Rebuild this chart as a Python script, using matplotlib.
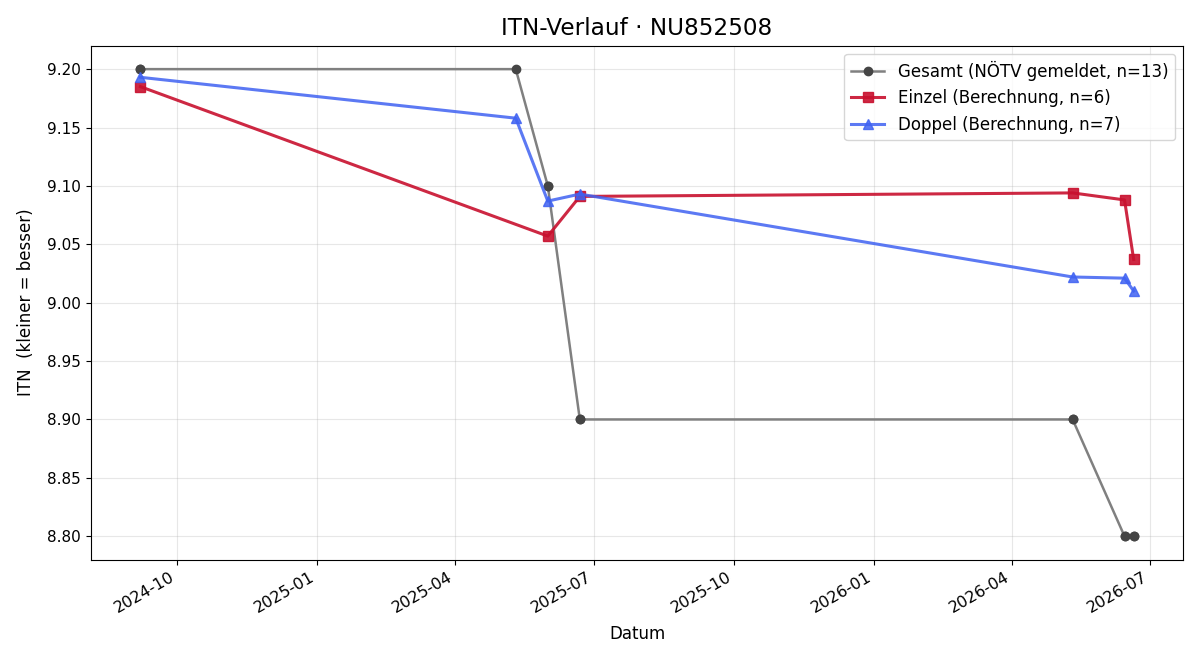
import numpy as np
import pandas as pd
import matplotlib
matplotlib.use('Agg')
import matplotlib.pyplot as plt
import matplotlib.dates as mdates

# Gesamt (reported), one entry per match
gesamt_dates = ['2024-09-07', '2024-09-07', '2025-05-11', '2025-06-01',
                '2025-06-01', '2025-06-22', '2025-06-22', '2026-05-11',
                '2026-05-11', '2026-06-14', '2026-06-14', '2026-06-20',
                '2026-06-20']
gesamt_itn = [9.20, 9.20, 9.20, 9.10, 9.10, 8.90, 8.90, 8.90, 8.90,
              8.80, 8.80, 8.80, 8.80]

einzel_dates = ['2024-09-07', '2025-06-01', '2025-06-22', '2026-05-11',
                '2026-06-14', '2026-06-20']
einzel_itn = [9.185, 9.057, 9.091, 9.094, 9.088, 9.037]

doppel_dates = ['2024-09-07', '2025-05-11', '2025-06-01', '2025-06-22',
                '2026-05-11', '2026-06-14', '2026-06-20']
doppel_itn = [9.193, 9.158, 9.087, 9.093, 9.022, 9.021, 9.010]

fig, ax = plt.subplots(figsize=(12, 6.6), dpi=100)
ax.plot(pd.to_datetime(gesamt_dates), gesamt_itn, color='#808080',
        marker='o', ms=6, lw=1.8, mfc='#454545', mec='#454545',
        label='Gesamt (NÖTV gemeldet, n={})'.format(len(gesamt_itn)))
ax.plot(pd.to_datetime(einzel_dates), einzel_itn, color='#c8102e',
        alpha=0.9, marker='s', ms=7, lw=2.2,
        label='Einzel (Berechnung, n={})'.format(len(einzel_itn)))
ax.plot(pd.to_datetime(doppel_dates), doppel_itn, color='#3f62f2',
        alpha=0.85, marker='^', ms=7, lw=2.2,
        label='Doppel (Berechnung, n={})'.format(len(doppel_itn)))

ax.xaxis.set_major_locator(mdates.MonthLocator(bymonth=[1, 4, 7, 10]))
ax.xaxis.set_major_formatter(mdates.DateFormatter('%Y-%m'))
ax.set_title('ITN-Verlauf · NU852508', fontsize=16.7, pad=8)
ax.set_xlabel('Datum', fontsize=12, labelpad=7)
ax.set_ylabel('ITN  (kleiner = besser)', fontsize=12, labelpad=9)
ax.tick_params(axis='y', labelsize=11)
ax.tick_params(axis='x', labelsize=11.5)
ax.grid(True, alpha=0.3)
ax.legend(loc='upper right', fontsize=12)
fig.autofmt_xdate()
fig.tight_layout(pad=1.2)
fig.savefig('out.png')
